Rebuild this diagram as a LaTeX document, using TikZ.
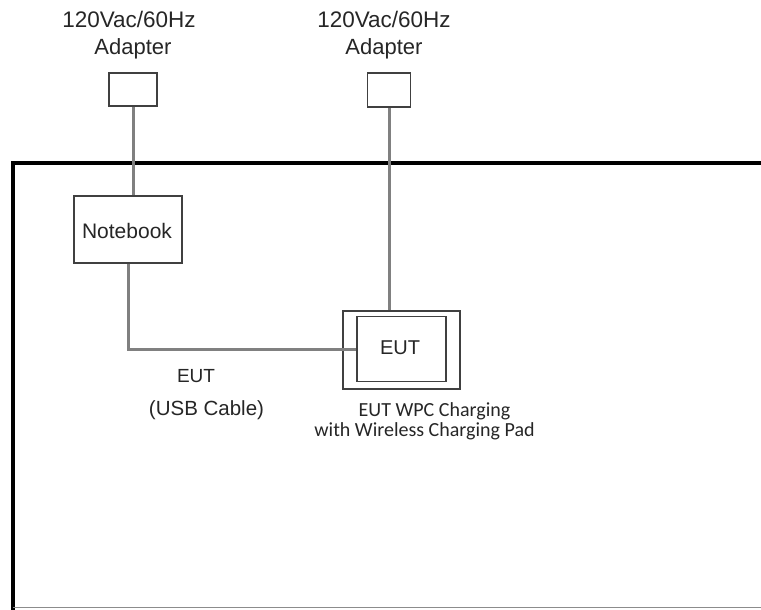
\documentclass[tikz,border=0pt]{standalone}
\usepackage{fontspec}
\setmainfont{Liberation Sans}
\newfontfamily\calib{Carlito}
\begin{document}
\begin{tikzpicture}[x=1pt,y=-1pt,
  boxst/.style={draw=black!75,line width=1.8pt,fill=white,inner sep=0pt},
  wire/.style={draw=black!50,line width=3pt},
  lbl/.style={anchor=base,inner sep=0pt,text=black!85}]
\useasboundingbox (0,0) rectangle (761,610);
% frame
\draw[line width=4.5pt] (13,610) -- (13,163) -- (761,163);
\draw[black!45,line width=1.5pt] (13,607.5) -- (761,607.5);
% nodes
\node[boxst,minimum width=48pt,minimum height=33pt] (adL) at (133,89.5) {};
\node[boxst,minimum width=43pt,minimum height=34pt] (adR) at (389,90) {};
\node[lbl,font=\fontsize{22.5}{26}\selectfont] (tL1) at (129,28) {120Vac/60Hz};
\node[lbl,font=\fontsize{22}{26}\selectfont] (tL2) at (133,55) {Adapter};
\node[lbl,font=\fontsize{22.5}{26}\selectfont] (tR1) at (384,28) {120Vac/60Hz};
\node[lbl,font=\fontsize{22}{26}\selectfont] (tR2) at (384,55) {Adapter};
\node[boxst,minimum width=108pt,minimum height=67pt] (nb) at (128,229.5) {};
\node[lbl,font=\fontsize{21}{24}\selectfont] (nbt) at (127,238) {Notebook};
\node[boxst,fill=none,minimum width=117pt,minimum height=78pt] (eutO) at (401.5,350) {};
\node[boxst,minimum width=89pt,minimum height=65pt] (eutI) at (401.5,349) {};
% wires
\draw[wire] (adL.south) -- (adL.south |- nb.north);
\draw[wire] (nb.south) |- (eutI.west);
\draw[wire] (adR.south) -- (adR.south |- eutO.north);
\node[lbl,font=\fontsize{20}{24}\selectfont] (eutt) at (400,354) {EUT};
\node[lbl,font=\fontsize{19}{24}\selectfont] (cab1) at (196,382) {EUT};
\node[lbl,font=\fontsize{20.5}{24}\selectfont] (cab2) at (206.5,415) {(USB Cable)};
\node[lbl,font=\calib\fontsize{20}{24}\selectfont] (w1) at (434.5,416) {EUT WPC Charging};
\node[lbl,font=\calib\fontsize{20}{24}\selectfont] (w2) at (424.5,436) {with Wireless Charging Pad};
\end{tikzpicture}
\end{document}
